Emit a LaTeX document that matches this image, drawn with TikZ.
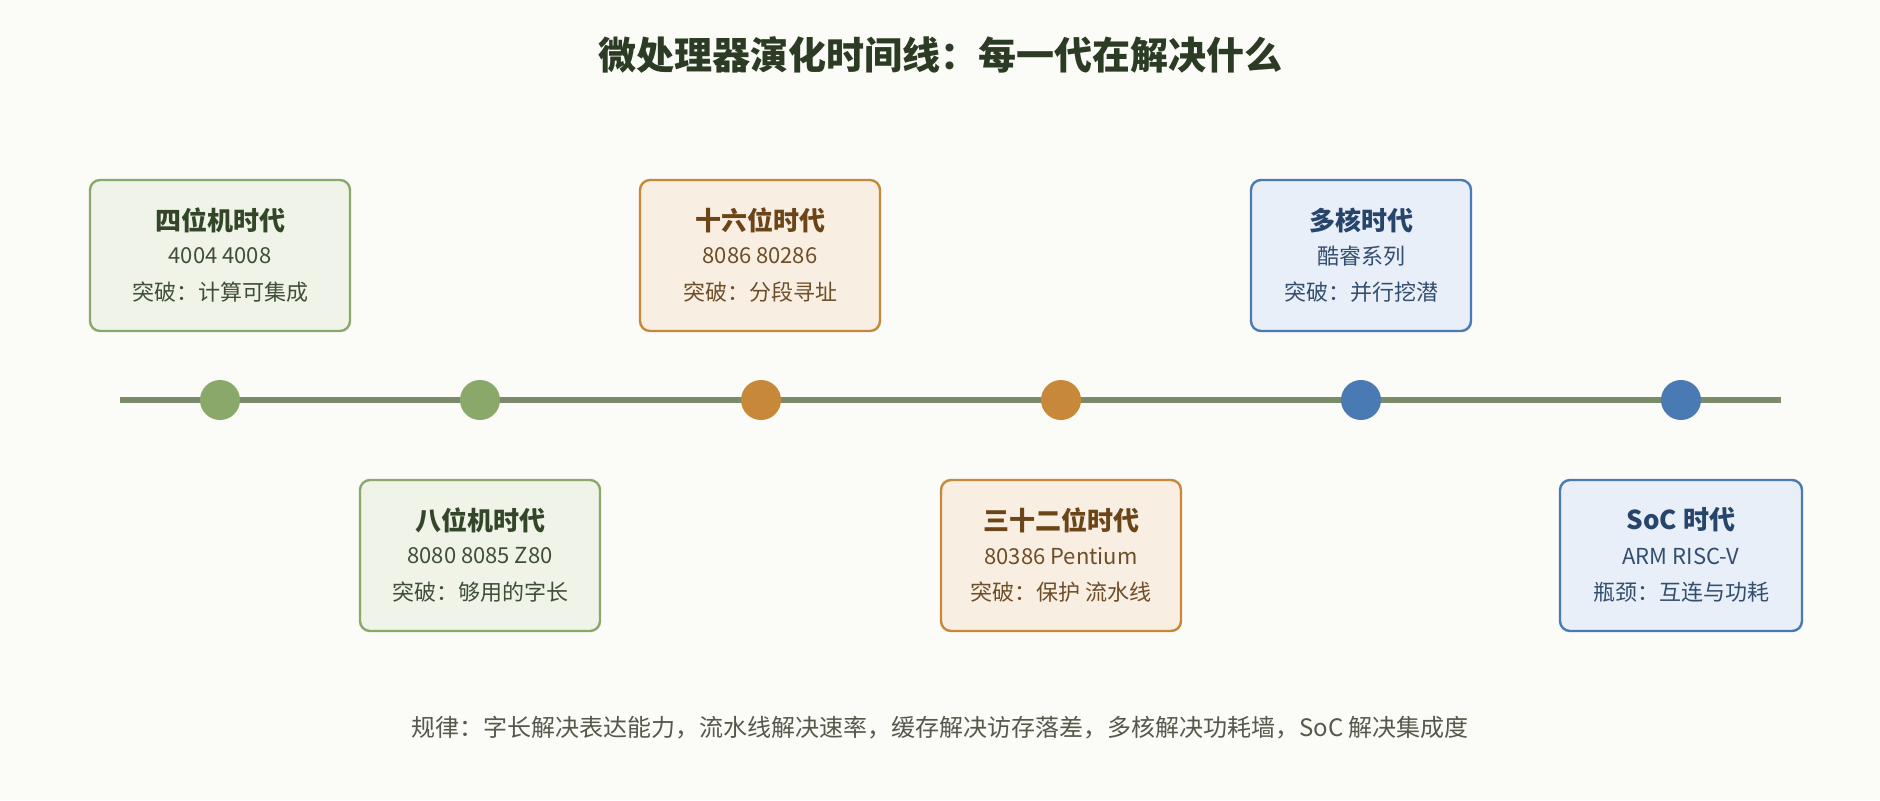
\documentclass[tikz,border=0pt]{standalone}
\usepackage{fontspec}
\setmainfont{Noto Sans CJK SC}
\definecolor{bg}{HTML}{FBFBF7}
\definecolor{axis}{HTML}{7A8A6A}
\definecolor{gS}{HTML}{8BA86B}\definecolor{gF}{HTML}{EFF3E8}\definecolor{gT}{HTML}{34462A}
\definecolor{oS}{HTML}{C8883A}\definecolor{oF}{HTML}{F8EEE2}\definecolor{oT}{HTML}{6B4518}
\definecolor{bS}{HTML}{4A7AB4}\definecolor{bF}{HTML}{E8EFF8}\definecolor{bT}{HTML}{27456B}
\definecolor{txt}{HTML}{55584A}
\begin{document}
\begin{tikzpicture}[x=0.5pt,y=-0.5pt,
  dot/.style={circle,fill=#1S,minimum size=20pt,inner sep=0pt},
  ttl/.style={font=\fontsize{13}{15}\selectfont\bfseries,text=#1T},
  ln/.style={font=\fontsize{11}{13}\selectfont,text=#1T!85!gray},
  box/.style={draw=#1S,fill=#1F,line width=1.2pt,rounded corners=5pt,minimum height=75.5pt}]
\fill[bg] (0,0) rectangle (1880,800);
\useasboundingbox (0,0) rectangle (1880,800);
\node[font=\fontsize{19}{22}\selectfont\bfseries,text=gT!85!black] (title) at (940,55) {微处理器演化时间线：每一代在解决什么};
\coordinate (L) at (120,400); \coordinate (R) at (1781,400);
\draw[axis,line width=3pt] (L) -- (R);
\foreach \n/\x/\c in {d1/220/g,d2/480/g,d3/761/o,d4/1061/o,d5/1361/b,d6/1681/b}
  \node[dot=\c] (\n) at (\x,400) {};
\node[box=g,minimum width=130pt] (b1) at (220,255.5) {};
\node[box=g,minimum width=120pt] (b2) at (480,555.5) {};
\node[box=o,minimum width=120pt] (b3) at (760,255.5) {};
\node[box=o,minimum width=120pt] (b4) at (1061,555.5) {};
\node[box=b,minimum width=110pt] (b5) at (1361,255.5) {};
\node[box=b,minimum width=121pt] (b6) at (1681,555.5) {};
\foreach \b/\c/\y/\t/\u/\v in {
  b1/g/220/四位机时代/4004 4008/突破：计算可集成,
  b3/o/220/十六位时代/8086 80286/突破：分段寻址,
  b5/b/220/多核时代/酷睿系列/突破：并行挖潜,
  b2/g/520/八位机时代/8080 8085 Z80/突破：够用的字长,
  b4/o/520/三十二位时代/80386 Pentium/突破：保护 流水线,
  b6/b/520/SoC 时代/ARM RISC-V/瓶颈：互连与功耗}{
  \node[ttl=\c] (\b t) at (\b.center |- 0,\y) {\t};
  \node[ln=\c] (\b u) at (\b.center |- 0,\y+36) {\u};
  \node[ln=\c] (\b v) at (\b.center |- 0,\y+72) {\v};
}
\node[font=\fontsize{12}{14}\selectfont,text=txt] (foot) at (940,728) {规律：字长解决表达能力，流水线解决速率，缓存解决访存落差，多核解决功耗墙，SoC 解决集成度};
\end{tikzpicture}
\end{document}
